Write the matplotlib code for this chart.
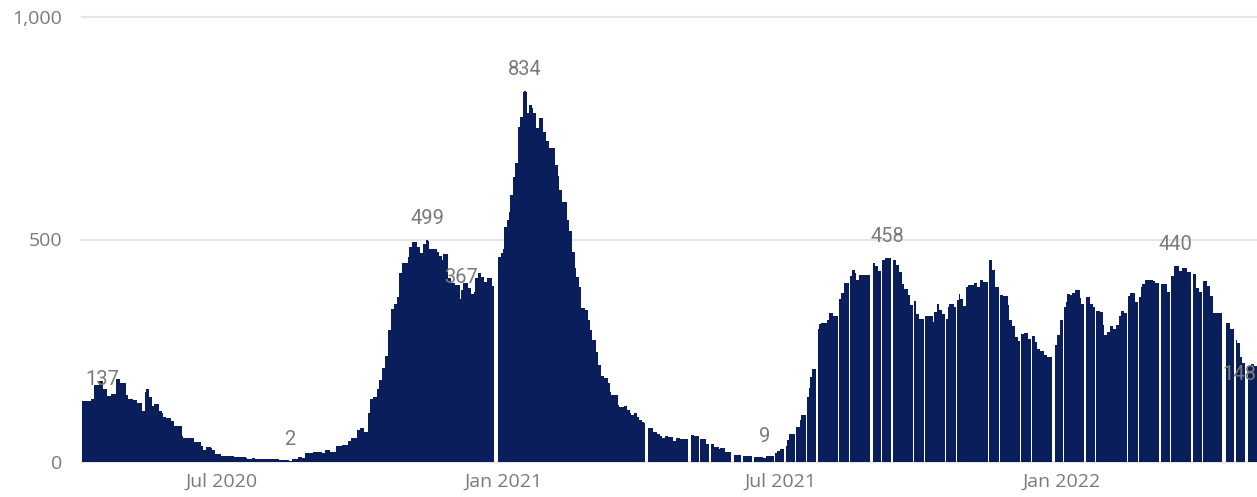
import numpy as np
import pandas as pd
import matplotlib
matplotlib.use("Agg")
import matplotlib.pyplot as plt
import matplotlib.dates as mdates

# daily values, one list per month (None = no bar that day)
N = None
apr_2020 = [137, 137, 137, 137, 137, 137, 141, 141, 173, 173, 173, 182, 182, 182, 163,
            163, 148, 148, 148, 152, 152, 152, 187, 187, 187, 177, 177, 177, 177, 151]
may_2020 = [141, 141, 141, 139, 139, 139, 133, 133, 133, 115, 115, 158, 163, 163, 147, 147,
            126, 130, 130, 130, 115, 115, 109, 102, 102, 98, 98, 98, 93, 93, 82]
jun_2020 = [82, 82, 82, 82, 58, 55, 55, 55, 55, 55, 55, 55, 44, 44, 44,
            44, 44, 36, 28, 28, 34, 34, 34, 32, 28, 28, 19, 19, 19, 19]
jul_2020 = [13, 13, 13, 13, 13, 13, 13, 13, 12, 12, 12, 12, 12, 12, 12, 12,
            10, 7, 7, 7, 9, 9, 6, 6, 6, 6, 6, 6, 6, 6, 6]
aug_2020 = [6, 6, 6, 6, 6, 6, 6, 5, 5, 5, 4, 4, 4, 2, 3, 6,
            6, 6, 6, 11, 11, 11, 8, 8, 20, 20, 20, 20, 20, 22, 22]
sep_2020 = [22, 22, 22, 22, 20, 20, 27, 27, 27, 22, 22, 22, 22, 36, 36,
            36, 36, 38, 38, 38, 38, 48, 48, 55, 55, 55, 55, 72, 72, 76]
oct_2020 = [76, 68, 68, 68, 111, 141, 141, 146, 146, 146, 164, 184, 184, 211, 211, 239,
            239, 297, 297, 344, 344, 355, 355, 371, 425, 425, 448, 448, 448, 448, 461]
nov_2020 = [484, 484, 494, 494, 494, 484, 484, 469, 469, 489, 489, 499, 497, 479, 479,
            478, 478, 478, 473, 464, 464, 454, 467, 467, 467, 413, 413, 402, 402, 402]
dec_2020 = [398, 398, 398, 367, 387, 402, 402, 402, 392, 392, 377, 377, 383, 413, 413, 424,
            424, 416, 416, 405, 405, 413, 413, 413, 395, N, N, N, 460, 460, 469]
jan_2021 = [478, 529, 529, 544, 562, 600, 600, 641, 671, 671, 753, 776, 776, 832, 834, 831,
            784, 802, 802, 795, 784, 784, 750, 750, 772, 772, 742, 742, 722, 722, 705]
feb_2021 = [705, 705, 705, 667, 667, 643, 611, 611, 585, 585, 585, 544, 518, 518,
            473, 473, 437, 416, 416, 393, 345, 345, 345, 342, 342, 319, 297, 274]
mar_2021 = [274, 274, 248, 218, 218, 193, 193, 188, 188, 188, 177, 158, 151, 151, 151, 151,
            128, 124, 124, 124, 126, 126, 117, 117, 109, 106, 106, 109, 109, 102, 94]
apr_2021 = [94, 91, 88, N, N, 77, 77, 77, 67, 67, 67, 63, 63, 58, 55,
            55, 58, 58, 56, 56, 56, 48, 48, 54, 54, 54, 52, 52, 52, 52]
may_2021 = [52, N, N, 61, 61, 58, 58, 58, N, 52, 52, 51, 51, 40, 40, N,
            40, 40, 34, 34, 34, 29, 31, 31, 31, 22, 22, 22, 22, N, N]
jun_2021 = [16, 16, 16, 16, 16, N, 13, 13, 13, 13, 13, 13, N, 12, 12,
            12, 12, 12, 12, 9, 9, 13, 13, 13, 13, 13, N, 21, 25, 25]
jul_2021 = [29, 29, 29, N, 37, 49, 64, 64, 63, 63, N, 79, 79, 94, 106, 106,
            106, N, 147, 166, 192, 210, 210, 210, N, 300, 309, 312, 312, 312, 312]
aug_2021 = [319, 334, 334, 334, 329, 329, 329, N, 366, 380, 380, 403, 403, 403, N, 419,
            431, 431, 425, 409, 409, 420, 420, 420, 420, 420, 420, 420, N, N, 448]
sep_2021 = [441, 441, 429, 429, N, 454, 454, 458, 458, 458, 458, N, 454, 454, 443,
            443, 428, 428, 400, 388, 388, 388, 375, 353, 353, N, 362, 332, 332, 321]
oct_2021 = [321, 321, N, 328, 328, 328, 328, 328, 315, 336, 336, 354, 342, 342, 332, 332,
            N, 321, 349, 355, 355, 355, 349, N, 364, 377, 366, 366, 351, 351, 393]
nov_2021 = [398, 398, 398, 397, 402, 402, 394, 394, 410, 410, 405, 405, 405, N, 454,
            454, 431, 431, 393, 393, N, 375, 375, 373, 373, 373, 353, 319, 319, 306]
dec_2021 = [306, 282, 282, 272, N, 287, 287, 291, 291, 276, 276, N, 283, 283, 270, 255,
            255, 249, 249, 249, 240, 240, 237, 237, 237, N, N, 263, 285, 285, 319]
jan_2022 = [319, N, 348, 360, 377, 377, 376, 379, 379, 387, 387, 387, 369, 355, 355, N,
            370, 370, 370, 355, 355, 348, N, 339, 339, 336, 336, 308, 285, 285, 293]
feb_2022 = [293, 306, 306, 300, 300, 308, 308, 327, 339, 339, 334, 334, N, 373,
            379, 379, 379, 360, 360, N, 371, 393, 400, 400, 409, 409, 410, 410]
mar_2022 = [410, 407, 403, 403, 403, N, 401, 401, 400, 400, 383, 383, N, 418, 418, 440,
            440, 440, 429, 429, 435, 435, 435, 428, 428, 428, N, 422, 422, 392, 392]
apr_2022 = [381, 381, N, 407, 407, 395, 395, 374, 374, 334, 334, 334, 334, 334, 334,
            N, N, N, 312, 312, 300, 300, 300, N, 274, 267, 267, 237, 222, 222]
may_2022 = [N, N, 216, 216, 220, 220, 216, 216, 148]

daily = (apr_2020 + may_2020 + jun_2020 + jul_2020 + aug_2020 + sep_2020 + oct_2020
         + nov_2020 + dec_2020 + jan_2021 + feb_2021 + mar_2021 + apr_2021 + may_2021
         + jun_2021 + jul_2021 + aug_2021 + sep_2021 + oct_2021 + nov_2021 + dec_2021
         + jan_2022 + feb_2022 + mar_2022 + apr_2022 + may_2022)
start = "2020-04-01"

# bars that carry a data label
label_dates = ["2020-04-01", "2020-08-14", "2020-11-12", "2020-12-04", "2021-01-15",
               "2021-06-21", "2021-09-09", "2022-03-16", "2022-05-09"]

tick_dates = ["2020-07-01", "2021-01-01", "2021-07-01", "2022-01-01"]
tick_labels = ["Jul 2020", "Jan 2021", "Jul 2021", "Jan 2022"]
y_ticks = [0, 500, 1000]
y_tick_labels = ["0", "500", "1,000"]

NAVY = "#091e5a"
GRID = "#e6e6e6"
TEXT = "#7a7a7a"
W, H = 1257, 497
PX_PER_DAY = 1.53

vals = np.array([np.nan if v is None else v for v in daily], dtype=float)
dates = pd.date_range(start, periods=len(vals), freq="D")

fig = plt.figure(figsize=(W / 100, H / 100), dpi=100)
# plot area runs a little past the right edge: the source view is cropped there
ax = fig.add_axes([82 / W, 1 - 462 / H, 1180 / W, 445 / H])

ok = ~np.isnan(vals)
# slight overlap so neighbouring days join without seams; missing days still show
ax.bar(dates[ok], vals[ok], width=1.08, color=NAVY, linewidth=0,
       antialiased=False, zorder=2)

x0 = mdates.date2num(dates[0]) - 0.5
ax.set_xlim(x0, x0 + 1180 / PX_PER_DAY)
ax.set_ylim(0, 1000)

for y in y_ticks:
    ax.axhline(y, color=GRID, lw=1.5, zorder=0, clip_on=False)

ax.set_yticks(y_ticks)
ax.set_yticklabels(y_tick_labels)
ax.set_xticks(pd.to_datetime(tick_dates))
ax.set_xticklabels(tick_labels)
ax.tick_params(axis="y", length=0, pad=14, labelsize=14, labelcolor=TEXT)
ax.tick_params(axis="x", length=0, pad=8, labelsize=14, labelcolor=TEXT)
for lab in ax.get_xticklabels() + ax.get_yticklabels():
    lab.set_fontfamily(["Open Sans", "DejaVu Sans"])
for s in ax.spines.values():
    s.set_visible(False)

# first and last labels are pushed inwards to stay inside the view
label_ha = ["left"] + ["center"] * 7 + ["right"]
label_dx = [1.5] + [0] * 7 + [-1]
for d, ha, dx in zip(label_dates, label_ha, label_dx):
    i = dates.get_loc(pd.Timestamp(d))
    ax.annotate(f"{vals[i]:.0f}", (dates[i], vals[i]), xytext=(dx, 11.5),
                textcoords="offset points", ha=ha, va="baseline",
                fontsize=14.5, color=TEXT, family=["Roboto", "DejaVu Sans"],
                zorder=3)

fig.savefig("out.png", dpi=100)
